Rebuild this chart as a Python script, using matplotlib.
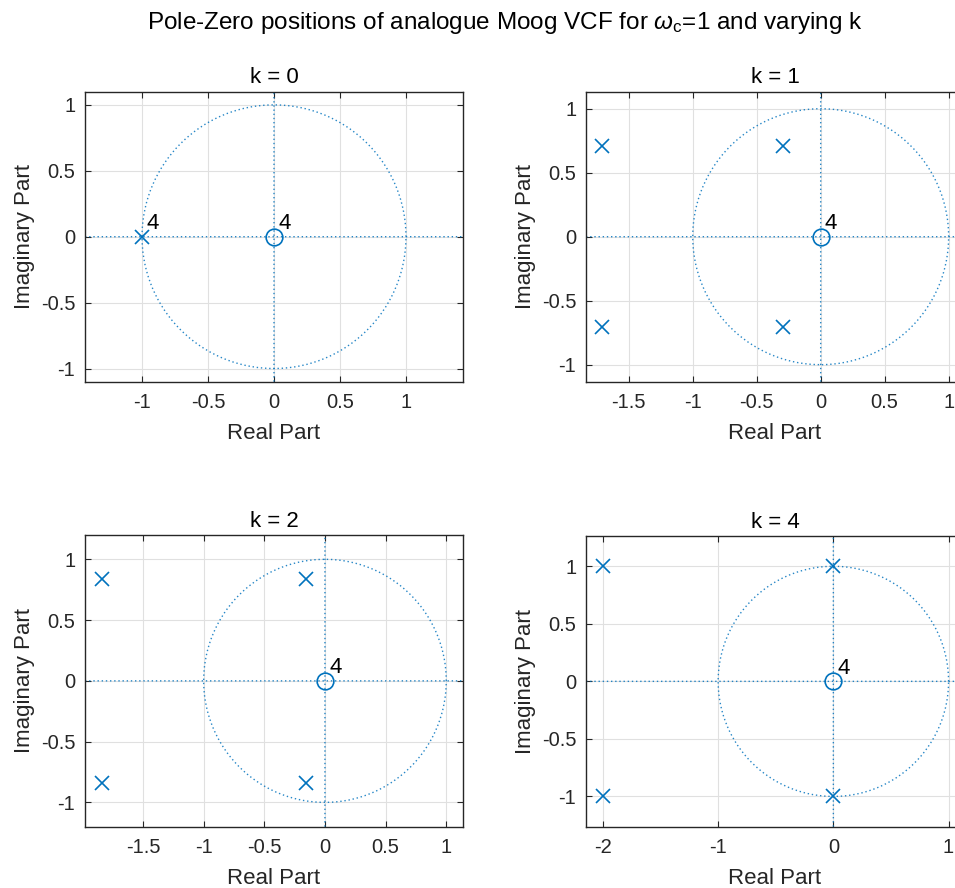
import numpy as np
import matplotlib
matplotlib.use("Agg")
import matplotlib.pyplot as plt

plt.rcParams['font.family'] = ['Liberation Sans', 'DejaVu Sans']
plt.rcParams['mathtext.fontset'] = 'custom'
plt.rcParams['mathtext.rm'] = 'Liberation Sans'
plt.rcParams['mathtext.it'] = 'Liberation Sans:italic'
plt.rcParams['axes.unicode_minus'] = False

# ---- data ----
k_values = [0, 1, 2, 4]
poles_re = [[-1.0], [-1.707, -1.707, -0.293, -0.293],
            [-1.841, -1.841, -0.159, -0.159], [-2.0, -2.0, 0.0, 0.0]]
poles_im = [[0.0], [0.707, -0.707, 0.707, -0.707],
            [0.841, -0.841, 0.841, -0.841], [1.0, -1.0, 1.0, -1.0]]
pole_mult = [4, 1, 1, 1]
zeros_re = [[0.0], [0.0], [0.0], [0.0]]
zeros_im = [[0.0], [0.0], [0.0], [0.0]]
zero_mult = [4, 4, 4, 4]
xlims = [(-1.432, 1.432), (-1.834, 1.12), (-1.978, 1.138), (-2.147, 1.134)]
ylims = [(-1.1, 1.1), (-1.133, 1.133), (-1.2, 1.2), (-1.263, 1.263)]
xticks = [[-1, -0.5, 0, 0.5, 1], [-1.5, -1, -0.5, 0, 0.5, 1],
          [-1.5, -1, -0.5, 0, 0.5, 1], [-2, -1, 0, 1]]
yticks = [-1, -0.5, 0, 0.5, 1]

BLUE = '#0072BD'
DARK = '#262626'

fig = plt.figure(figsize=(9.55, 8.88), dpi=100)
W, H = 955.0, 888.0
boxes = [(85, 91.7, 378, 290), (586, 91.7, 378, 290),
         (85, 535, 378, 291.7), (586, 536, 378, 290.7)]

def fmt(v):
    return '%g' % v

theta = np.linspace(0, 2 * np.pi, 400)
for i, k in enumerate(k_values):
    l, t, w, h = boxes[i]
    ax = fig.add_axes([l / W, 1 - (t + h) / H, w / W, h / H])
    ax.set_xlim(*xlims[i])
    ax.set_ylim(*ylims[i])
    ax.set_xticks(xticks[i])
    ax.set_xticklabels([fmt(v) for v in xticks[i]])
    ax.set_yticks(yticks)
    ax.set_yticklabels([fmt(v) for v in yticks])
    ax.grid(True, color='#e0e0e0', linewidth=0.8, zorder=0)
    ax.set_axisbelow(True)
    ds = (0, (1.0, 2.0))
    ax.plot(np.cos(theta), np.sin(theta), color=BLUE, lw=1.0, ls=ds,
            alpha=0.85, zorder=2)
    ax.plot(xlims[i], [0, 0], color=BLUE, lw=1.0, ls=ds, alpha=0.85,
            zorder=2, snap=False)
    ax.plot([0, 0], ylims[i], color=BLUE, lw=1.0, ls=ds, alpha=0.85,
            zorder=2, snap=False)
    ax.plot(poles_re[i], poles_im[i], 'x', color=BLUE, ms=10, mew=1.2,
            ls='none', zorder=3)
    ax.plot(zeros_re[i], zeros_im[i], 'o', color=BLUE, ms=12, mew=1.2,
            mfc='none', ls='none', zorder=3)
    if pole_mult[i] > 1:
        ax.annotate(str(pole_mult[i]), (poles_re[i][0], poles_im[i][0]),
                    xytext=(3, 2), textcoords='offset points',
                    ha='left', va='bottom', fontsize=16, color='black')
    if zero_mult[i] > 1:
        ax.annotate(str(zero_mult[i]), (zeros_re[i][0], zeros_im[i][0]),
                    xytext=(3, 2), textcoords='offset points',
                    ha='left', va='bottom', fontsize=16, color='black')
    ax.tick_params(direction='in', length=4, width=0.8, color=DARK,
                   labelcolor=DARK, labelsize=14.5, top=True, right=True)
    ax.tick_params(axis='x', pad=8)
    ax.tick_params(axis='y', pad=7)
    for sp in ax.spines.values():
        sp.set_color(DARK)
        sp.set_linewidth(1.0)
    ax.set_xlabel('Real Part', fontsize=16, color=DARK, labelpad=8)
    ax.set_ylabel('Imaginary Part', fontsize=16, color=DARK, labelpad=4)
    ax.set_title('k = %d' % k, fontsize=16, color='black', pad=6)

fig.text(505 / W, 1 - 23 / H,
         r'Pole-Zero positions of analogue Moog VCF for $\omega_{\mathrm{c}}$=1 and varying k',
         ha='center', va='center', fontsize=17.5, color='black')

fig.savefig('out.png', dpi=100)
